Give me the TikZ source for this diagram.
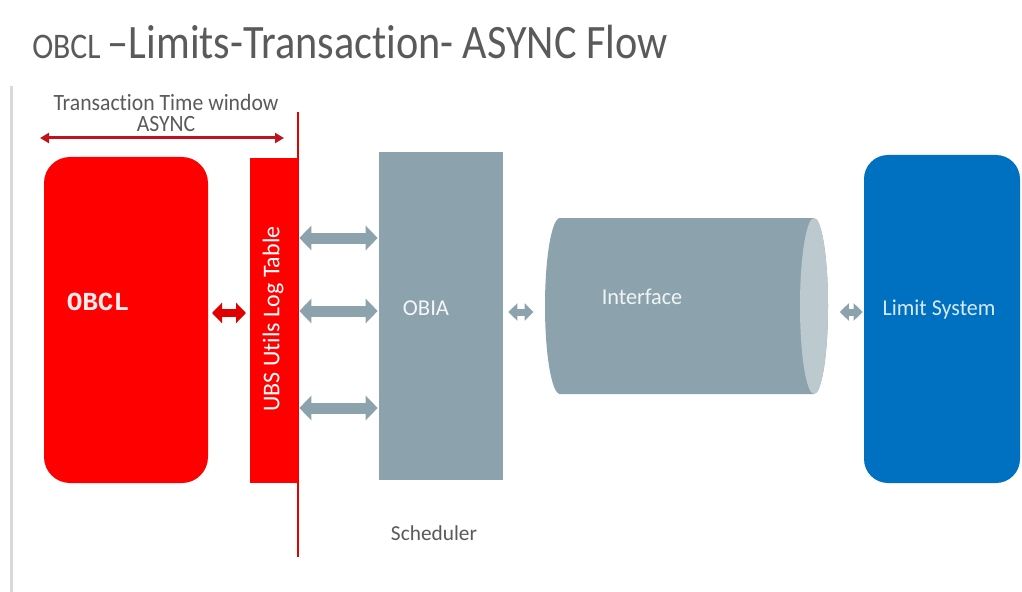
\documentclass[tikz,border=0pt]{standalone}
\usepackage{fontspec}
\setmainfont{Carlito}[Ligatures=NoCommon]
\newfontfamily\slabfont{Liberation Mono}
\usetikzlibrary{arrows.meta}
\definecolor{obred}{HTML}{FF0000}
\definecolor{darkred}{HTML}{C0141C}
\definecolor{slate}{HTML}{8CA3AE}
\definecolor{slatecap}{HTML}{BCC9CF}
\definecolor{limblue}{HTML}{0070C0}
\definecolor{txtgray}{HTML}{5A5A5A}
\definecolor{rulegray}{HTML}{D9D9D9}
\tikzset{
  px/.style={x=0.75pt,y=-0.75pt},
  block/.style={inner sep=0pt, outer sep=0pt, draw=none},
  fatarrow/.style={draw=slate, line width=11pt*0.75,
    {Triangle[width=24pt*0.75,length=12pt*0.75]}-{Triangle[width=24pt*0.75,length=12pt*0.75]}},
  smallarrow/.style={draw=slate, line width=7pt*0.75,
    {Triangle[width=17pt*0.75,length=9pt*0.75]}-{Triangle[width=17pt*0.75,length=9pt*0.75]}},
  redarrow/.style={draw=obred!88!black, line width=8pt*0.75,
    {Triangle[width=20pt*0.75,length=10pt*0.75]}-{Triangle[width=20pt*0.75,length=10pt*0.75]}},
  winarrow/.style={draw=darkred, line width=3pt*0.75,
    {Triangle[width=10pt*0.75,length=9pt*0.75]}-{Triangle[width=10pt*0.75,length=9pt*0.75]}},
  boxtext/.style={text=white, inner sep=0pt},
}
\begin{document}
\begin{tikzpicture}[px]
\useasboundingbox (0,0) rectangle (1022,592);
\fill[white] (0,0) rectangle (1022,592);
% left margin rule
\draw[rulegray, line width=3pt*0.75] (11,86) -- (11,592);
% title
\node[anchor=base west, inner sep=0pt, text=txtgray] (title) at (32,59)
  {\scalebox{0.88}[1]{\fontsize{27}{30}\selectfont OBCL \fontsize{36}{40}\selectfont–Limits-Transaction- ASYNC Flow}};
% transaction window
\node[inner sep=0pt, text=txtgray, align=center, font=\fontsize{17.5}{18}\selectfont] (twin) at (166,113)
  {\scalebox{0.93}[1]{Transaction Time window}\\[-2pt]\scalebox{0.93}[1]{ASYNC}};
\coordinate (wl) at (40,138);
\coordinate (wr) at (284,138);
\draw[winarrow] (wl) -- (wr);
% red boundary line
\coordinate (bt) at (298,112);
\coordinate (bb) at (298,557);
\draw[obred!90!black, line width=1.5pt*0.75] (bt) -- (bb);
% OBCL box
\node[block, fill=obred, rounded corners=26pt*0.75, minimum width=164pt*0.75, minimum height=326pt*0.75] (obcl) at (126,320) {};
\node[text=white!92!red, inner sep=0pt] (obcltxt) at (98,302) {\slabfont\bfseries\fontsize{19.5}{20}\selectfont OBCL};
% UBS log table
\node[block, fill=obred, minimum width=48pt*0.75, minimum height=325pt*0.75] (ubs) at (274,320.5) {};
\node[boxtext, rotate=90] (ubstxt) at (273,319) {\fontsize{18}{18}\selectfont UBS Utils Log Table};
% OBIA
\node[block, fill=slate, minimum width=124pt*0.75, minimum height=328pt*0.75] (obia) at (441,316) {};
\node[boxtext, text=white!90!slate] (obiatxt) at (426,308) {\fontsize{17}{17}\selectfont OBIA};
% Interface cylinder
\fill[slate] (560,218) -- (814,218) arc[start angle=-90, end angle=90, x radius=14, y radius=88]
  -- (560,394) arc[start angle=90, end angle=270, x radius=15, y radius=88] -- cycle;
\fill[slatecap] (814,306) ellipse[x radius=14, y radius=88];
\node[block, minimum width=297pt*0.75, minimum height=176pt*0.75] (iface) at (686,306) {};
\node[boxtext, text=white!88!slate] (ifacetxt) at (642,297) {\scalebox{0.98}[1]{\fontsize{17}{17}\selectfont Interface}};
% Limit system
\node[block, fill=limblue, rounded corners=24pt*0.75, minimum width=156pt*0.75, minimum height=328pt*0.75] (limit) at (942,319) {};
\node[boxtext, text=white!85!limblue] (limittxt) at (939,310) {\scalebox{0.97}[1]{\fontsize{17}{17}\selectfont Limit System}};
% scheduler
\node[inner sep=0pt, text=txtgray] (sched) at (434,533) {\fontsize{16}{16}\selectfont Scheduler};
% connectors
\draw[redarrow] ([xshift=3pt]obcl.east |- 0,313) -- ([xshift=-3pt]ubs.west |- 0,313);
\draw[fatarrow] ([xshift=1pt]ubs.east |- 0,238) -- ([xshift=-1pt]obia.west |- 0,238);
\draw[fatarrow] ([xshift=1pt]ubs.east |- 0,311) -- ([xshift=-1pt]obia.west |- 0,311);
\draw[fatarrow] ([xshift=1pt]ubs.east |- 0,408) -- ([xshift=-1pt]obia.west |- 0,408);
\draw[smallarrow] ([xshift=4pt]obia.east |- 0,312) -- ([xshift=-3pt]iface.west |- 0,312);
\draw[smallarrow] ([xshift=4pt]iface.east |- 0,312) -- ([xshift=-1pt]limit.west |- 0,312);
\end{tikzpicture}
\end{document}
